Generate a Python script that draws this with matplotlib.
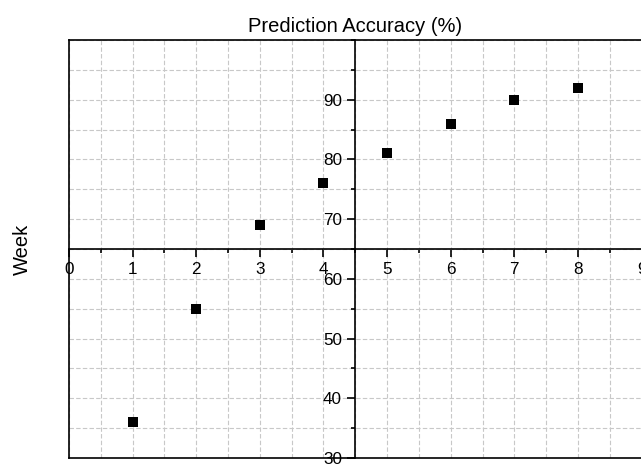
import numpy as np
import matplotlib
matplotlib.use('Agg')
from matplotlib import pyplot as plt
from matplotlib.ticker import MultipleLocator

plt.rcParams['font.family'] = ['Liberation Sans', 'DejaVu Sans']

# data
weeks = [1, 2, 3, 4, 5, 6, 7, 8]
accuracy = [36, 55, 69, 76, 81, 86, 90, 92]
xticks = [0, 1, 2, 3, 4, 5, 6, 7, 8, 9]
yticks = [30, 40, 50, 60, 70, 80, 90]

fig = plt.figure(figsize=(6.41, 4.66), dpi=100)
ax = fig.add_axes([69/641, 8/466, 572.6/641, 418/466])
ax.set_xlim(0, 9)
ax.set_ylim(30, 100)

ax.scatter(weeks, accuracy, marker='s', s=44, color='black', zorder=3, linewidths=0)

# axes crossing in the middle
ax.spines['left'].set_position(('data', 4.5))
ax.spines['bottom'].set_position(('data', 65))
ax.spines['right'].set_visible(False)
for s in ['left', 'bottom', 'top']:
    ax.spines[s].set_linewidth(1.2)
# frame on the left and bottom
ax.plot([0, 0], [0, 1], transform=ax.transAxes, color='black', lw=1.2, clip_on=False)
ax.plot([0, 1], [0, 0], transform=ax.transAxes, color='black', lw=1.2, clip_on=False)

ax.set_xticks(xticks)
ax.set_yticks(yticks)
ax.xaxis.set_minor_locator(MultipleLocator(0.5))
ax.yaxis.set_minor_locator(MultipleLocator(5))
ax.tick_params(which='major', direction='out', length=6, width=1.2, labelsize=12.3, pad=3.5)
ax.tick_params(which='minor', direction='out', length=3, width=1.2)

ax.grid(which='both', color='#c8c8c8', linestyle=(0, (4, 2)), linewidth=0.8)
ax.set_axisbelow(True)

ax.set_title('Prediction Accuracy (%)', fontsize=14.5, pad=6)
ax.set_ylabel('Week', fontsize=14.5)
ax.yaxis.set_label_coords(-0.064, 0.5)

fig.savefig('out.png', dpi=100)
